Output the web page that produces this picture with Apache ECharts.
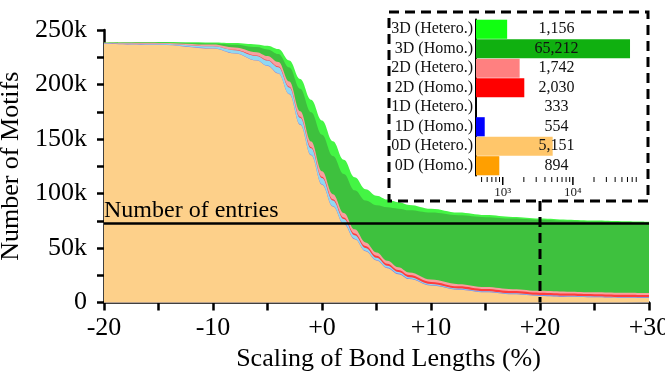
<!DOCTYPE html>
<html>
<head>
<meta charset="utf-8">
<script src="https://cdn.jsdelivr.net/npm/echarts@6/dist/echarts.min.js"></script>
<style>
html, body { margin: 0; padding: 0; background: #fff; }
#chart { width: 665px; height: 373px; }
</style>
</head>
<body>
<div id="chart"></div>
<script>
const FONT = "'Liberation Serif', 'Times New Roman', serif";

// Bond-length scaling steps (%)
const scaling = [-20, -15, -10, -8, -6, -5, -4, -3, -2, -1, 0, 1, 2, 3, 4, 5, 6, 7, 8, 10, 12.5, 15, 17.5, 20, 22.5, 25, 27.5, 30];

// Motif counts per structure type (thousands), bottom of the stack first
const homo0D   = [2.0, 2.0, 2.0, 2.0, 1.95, 1.9, 1.85, 1.8, 1.75, 1.7, 1.6, 1.5, 1.45, 1.4, 1.35, 1.3, 1.25, 1.2, 1.15, 1.1, 1.0, 0.95, 0.92, 0.894, 0.87, 0.85, 0.83, 0.8];
const hetero0D = [235.5, 234.5, 231.0, 226.5, 220.05, 215.1, 208.15, 189.2, 161.25, 133.3, 106.4, 86.5, 70.55, 56.6, 45.65, 37.2, 30.25, 24.8, 20.35, 14.4, 10.7, 8.35, 6.58, 5.151, 4.43, 3.95, 3.57, 3.3];
const homo1D   = [0.05, 0.1, 0.2, 0.25, 0.3, 0.35, 0.4, 0.45, 0.5, 0.55, 0.6, 0.6, 0.6, 0.6, 0.58, 0.57, 0.56, 0.56, 0.56, 0.56, 0.555, 0.555, 0.555, 0.554, 0.53, 0.5, 0.48, 0.46];
const hetero1D = [0.35, 0.8, 1.8, 2.75, 3.9, 4.65, 5.4, 5.85, 6.0, 5.95, 5.6, 4.9, 4.0, 3.2, 2.52, 2.03, 1.64, 1.34, 1.14, 0.84, 0.645, 0.495, 0.395, 0.333, 0.30, 0.28, 0.26, 0.24];
const homo2D   = [0.05, 0.1, 0.2, 0.3, 0.4, 0.5, 0.6, 0.7, 0.85, 1.0, 1.15, 1.3, 1.45, 1.6, 1.7, 1.8, 1.85, 1.9, 1.93, 1.97, 2.0, 2.02, 2.03, 2.030, 2.03, 2.03, 2.03, 2.03];
const hetero2D = [0.25, 0.6, 1.4, 2.2, 3.1, 3.7, 4.2, 4.7, 5.05, 5.1, 4.95, 4.6, 4.15, 3.7, 3.3, 3.0, 2.75, 2.55, 2.37, 2.13, 1.95, 1.83, 1.77, 1.742, 1.71, 1.69, 1.67, 1.67];
const homo3D   = [0.1, 0.4, 1.0, 2.5, 4.6, 6.0, 7.4, 12.8, 20.6, 26.9, 33.7, 35.1, 35.8, 35.9, 38.4, 43.3, 49.0, 53.75, 57.1, 61.5, 63.15, 64.1, 64.8, 65.212, 65.13, 65.0, 64.91, 64.8];
const hetero3D = [0.3, 0.5, 1.0, 1.5, 2.5, 3.3, 4.5, 6.5, 9.0, 11.5, 13.0, 13.5, 13.0, 12.0, 10.5, 8.8, 7.2, 5.9, 4.9, 3.5, 2.5, 1.9, 1.45, 1.156, 1.0, 0.9, 0.85, 0.8];

// Total number of entries (thousands)
const entries = 72.6;
// Scaling step detailed in the inset
const detailStep = 20;

// Inset: motif counts at the detailed step, bottom row first
const insetCategories = ['0D (Homo.)', '0D (Hetero.)', '1D (Homo.)', '1D (Hetero.)', '2D (Homo.)', '2D (Hetero.)', '3D (Homo.)', '3D (Hetero.)'];
const insetCounts = [894, 5151, 554, 333, 2030, 1742, 65212, 1156];
const insetMajorTicks = [1000, 10000];
const insetMinorTicks = [500, 600, 700, 800, 900, 2000, 3000, 4000, 5000, 6000, 7000, 8000, 9000, 20000, 30000, 40000, 50000, 60000, 70000, 80000];

const layers = [
  { name: '0D (Homo.)',   data: homo0D,   area: '#fdd08a', bar: '#ff9f00' },
  { name: '0D (Hetero.)', data: hetero0D, area: '#fdd08a', bar: '#ffc66a' },
  { name: '1D (Homo.)',   data: homo1D,   area: '#6f78f4', bar: '#0000ff' },
  { name: '1D (Hetero.)', data: hetero1D, area: '#90d8f2', bar: '#80d8f8' },
  { name: '2D (Homo.)',   data: homo2D,   area: '#ff3c3c', bar: '#ff0000' },
  { name: '2D (Hetero.)', data: hetero2D, area: '#f8a0a0', bar: '#ff8080' },
  { name: '3D (Homo.)',   data: homo3D,   area: '#3ec13e', bar: '#10b010' },
  { name: '3D (Hetero.)', data: hetero3D, area: '#44f544', bar: '#11ff11' }
];

// Running totals: each layer is drawn as the sum of itself and everything beneath it
const running = scaling.map(() => 0);
const stacked = layers.map(layer => {
  layer.data.forEach((v, i) => { running[i] += v; });
  return running.slice();
});

const chart = echarts.init(document.getElementById('chart'), null, { renderer: 'canvas' });

// Top layer first so each lower layer paints over the one above it
const areaSeries = [];
for (let k = layers.length - 1; k >= 0; k--) {
  const s = {
    type: 'line',
    name: layers[k].name,
    xAxisIndex: 0,
    yAxisIndex: 0,
    smooth: 0.4,
    smoothMonotone: 'x',
    symbol: 'none',
    lineStyle: { width: 0 },
    areaStyle: { color: layers[k].area, opacity: 1, origin: 'start' },
    silent: true,
    data: scaling.map((x, i) => [x, stacked[k][i]])
  };
  if (k === 0) {
    s.markLine = {
      silent: true,
      symbol: 'none',
      lineStyle: { color: '#000', width: 2.5, type: 'solid' },
      label: {
        position: 'insideStartTop',
        formatter: 'Number of entries',
        fontFamily: FONT,
        fontSize: 24,
        color: '#000',
        distance: [0, 1]
      },
      data: [{ yAxis: entries }]
    };
  }
  areaSeries.push(s);
}

const option = {
  animation: false,
  backgroundColor: '#fff',
  grid: [
    { left: 104, right: 16, top: 30, height: 272.5, outerBoundsMode: 'none', containLabel: false },
    { left: 476, top: 19.5, width: 161, height: 156, z: 60, outerBoundsMode: 'none', containLabel: false }
  ],
  xAxis: [
    {
      type: 'value', gridIndex: 0, min: -20, max: 30, interval: 5,
      axisLine: { onZero: false, lineStyle: { color: '#000', width: 2.5 } },
      axisTick: { length: 8, lineStyle: { color: '#000', width: 2.5 } },
      splitLine: { show: false },
      axisLabel: {
        fontFamily: FONT, fontSize: 26, color: '#000', margin: 13,
        formatter: v => (v % 10 !== 0 ? '' : (v >= 0 ? '+' + v : String(v)))
      },
      name: 'Scaling of Bond Lengths (%)',
      nameLocation: 'middle', nameGap: 44,
      nameTextStyle: { fontFamily: FONT, fontSize: 26, color: '#000', padding: [0, 0, 0, 24] }
    },
    {
      type: 'log', gridIndex: 1, logBase: 10, min: 416, max: 82000, offset: 1.5, z: 60,
      axisLine: { onZero: false, lineStyle: { color: '#000', width: 2 } },
      axisTick: { show: false },
      splitLine: { show: false },
      axisLabel: {
        fontFamily: FONT, fontSize: 13, color: '#222', margin: 9,
        showMinLabel: false, showMaxLabel: false,
        formatter: v => {
          const e = Math.round(Math.log10(v));
          if (Math.abs(Math.log10(v) - e) > 1e-6) return '';
          return e === 3 ? '10\u00B3' : e === 4 ? '10\u2074' : '';
        }
      }
    }
  ],
  yAxis: [
    {
      type: 'value', gridIndex: 0, min: 0, max: 250, interval: 25,
      axisLine: { show: true, onZero: false, lineStyle: { color: '#000', width: 2.5 } },
      axisTick: { show: true, length: 7, lineStyle: { color: '#000', width: 2.5 } },
      splitLine: { show: false },
      axisLabel: {
        fontFamily: FONT, fontSize: 26, color: '#000', margin: 17,
        formatter: v => (v % 50 !== 0 ? '' : (v === 0 ? '0' : v + 'k'))
      },
      name: 'Number of Motifs',
      nameLocation: 'middle', nameGap: 58, nameRotate: 90,
      nameTextStyle: { fontFamily: FONT, fontSize: 26, color: '#000' }
    },
    {
      type: 'category', gridIndex: 1, data: insetCategories, z: 60,
      axisLine: { show: true, onZero: false, lineStyle: { color: '#000', width: 2 } },
      axisTick: { show: false },
      splitLine: { show: false },
      axisLabel: { interval: 0, fontFamily: FONT, fontSize: 16, color: '#111', margin: 3 }
    }
  ],
  series: [
    ...areaSeries,
    {
      type: 'bar', name: 'inset', xAxisIndex: 1, yAxisIndex: 1, z: 60,
      barCategoryGap: '2%', silent: true,
      data: insetCounts.map((v, i) => ({ value: v, itemStyle: { color: layers[i].bar } }))
    },
    {
      // value labels, centred across the inset plot
      type: 'custom', xAxisIndex: 1, yAxisIndex: 1, z: 62, silent: true, clip: false,
      data: insetCounts.map((v, i) => [v, i]),
      renderItem: (params, api) => {
        const cs = params.coordSys;
        const y = api.coord([1000, params.dataIndex])[1];
        return {
          type: 'text',
          style: {
            text: insetCounts[params.dataIndex].toLocaleString('en-US'),
            x: cs.x + cs.width / 2, y: y,
            align: 'center', verticalAlign: 'middle',
            fontFamily: FONT, fontSize: 16, fill: '#111'
          }
        };
      }
    },
    {
      // log-axis tick marks (decades and their subdivisions)
      type: 'custom', xAxisIndex: 1, yAxisIndex: 1, z: 61, silent: true, clip: false,
      data: insetMajorTicks.map(v => [v, 1]).concat(insetMinorTicks.map(v => [v, 0])),
      renderItem: (params, api) => {
        const cs = params.coordSys;
        const x = api.coord([api.value(0), 0])[0];
        const major = params.dataIndex < insetMajorTicks.length;
        const y0 = cs.y + cs.height + 1.5;
        return {
          type: 'line',
          shape: { x1: x, y1: y0, x2: x, y2: y0 + (major ? 8 : 5) },
          style: { stroke: '#000', lineWidth: major ? 1.5 : 1 }
        };
      }
    }
  ]
};

chart.setOption(option);

// Dashed frame around the inset and guide line down to the detailed step
const box = { x: 389, y: 12, w: 259, h: 189 };
const foot = chart.convertToPixel({ xAxisIndex: 0, yAxisIndex: 0 }, [detailStep, 0]);
chart.setOption({
  graphic: [
    {
      type: 'rect', z: 50, silent: true,
      shape: { x: box.x, y: box.y, width: box.w, height: box.h },
      style: { fill: '#fff', stroke: '#000', lineWidth: 3, lineDash: [10, 6] }
    },
    {
      type: 'line', z: 50, silent: true,
      shape: { x1: foot[0], y1: box.y + box.h, x2: foot[0], y2: foot[1] },
      style: { stroke: '#000', lineWidth: 3, lineDash: [10, 6] }
    }
  ]
});
</script>
</body>
</html>
